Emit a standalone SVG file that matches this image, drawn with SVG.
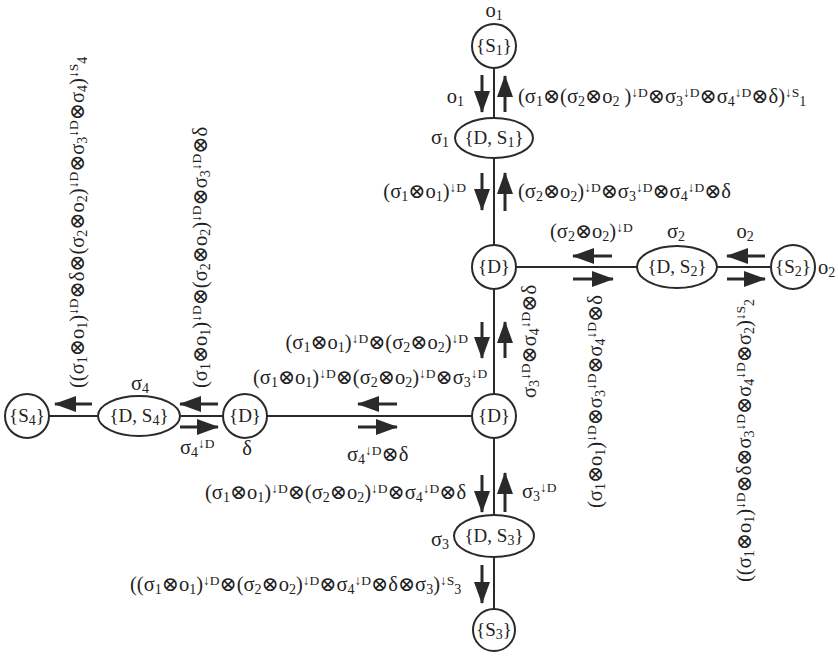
<svg xmlns="http://www.w3.org/2000/svg" width="838" height="657" viewBox="0 0 838 657">
<style>
.t{font-family:"Liberation Serif","Times New Roman","DejaVu Serif",serif;font-size:20.5px;fill:#222}
.nt{font-family:"Liberation Serif","Times New Roman","DejaVu Serif",serif;font-size:19px;fill:#222}
.s{font-size:14px;baseline-shift:-3px}
.p{font-size:13.5px;baseline-shift:6px}
.n{fill:#fff;stroke:#2a2a2a;stroke-width:2}
.l{stroke:#2a2a2a;stroke-width:2;fill:none}
.a{stroke:#2a2a2a;stroke-width:3;fill:none;marker-end:url(#ah)}
</style>
<defs>
<marker id="ah" markerUnits="userSpaceOnUse" markerWidth="22" markerHeight="16" refX="21" refY="8" orient="auto" viewBox="0 0 22 16">
<path d="M0,0 L22,8 L0,16 z" fill="#2a2a2a"/>
</marker>
</defs>
<rect width="838" height="657" fill="#fff"/>
<g id="connectors">
<line class="l" x1="494" y1="46" x2="494" y2="630"/>
<line class="l" x1="494" y1="267" x2="793" y2="267"/>
<line class="l" x1="27" y1="416" x2="494" y2="416"/>
<line class="a" x1="482" y1="75" x2="482" y2="112"/>
<line class="a" x1="505" y1="112" x2="505" y2="76"/>
<line class="a" x1="482" y1="173" x2="482" y2="210"/>
<line class="a" x1="505" y1="211" x2="505" y2="173"/>
<line class="a" x1="482" y1="322" x2="482" y2="358"/>
<line class="a" x1="505" y1="358" x2="505" y2="322"/>
<line class="a" x1="482" y1="475" x2="482" y2="512"/>
<line class="a" x1="505" y1="512" x2="505" y2="473"/>
<line class="a" x1="482" y1="565" x2="482" y2="603"/>
<line class="a" x1="612" y1="256" x2="573" y2="256"/>
<line class="a" x1="573" y1="279" x2="613" y2="279"/>
<line class="a" x1="765" y1="256" x2="727" y2="256"/>
<line class="a" x1="727" y1="279" x2="765" y2="279"/>
<line class="a" x1="397" y1="404" x2="358" y2="404"/>
<line class="a" x1="358" y1="427" x2="397" y2="427"/>
<line class="a" x1="218" y1="404" x2="180" y2="404"/>
<line class="a" x1="180" y1="427" x2="218" y2="427"/>
<line class="a" x1="92" y1="404" x2="55" y2="404"/>
</g>
<g id="S1"><circle class="n" cx="494" cy="46" r="22"/><text class="nt" x="494" y="52" text-anchor="middle">{S<tspan class="s">1</tspan>}</text></g>
<g id="DS1"><ellipse class="n" cx="494" cy="138" rx="39" ry="20"/><text class="nt" x="494" y="144" text-anchor="middle">{D, S<tspan class="s">1</tspan>}</text></g>
<g id="Dtop"><circle class="n" cx="494" cy="267" r="22"/><text class="nt" x="494" y="273" text-anchor="middle">{D}</text></g>
<g id="DS2"><ellipse class="n" cx="677" cy="267" rx="40" ry="21"/><text class="nt" x="677" y="273" text-anchor="middle">{D, S<tspan class="s">2</tspan>}</text></g>
<g id="S2"><circle class="n" cx="793" cy="267" r="22"/><text class="nt" x="793" y="273" text-anchor="middle">{S<tspan class="s">2</tspan>}</text></g>
<g id="Dc"><circle class="n" cx="494" cy="416" r="22"/><text class="nt" x="494" y="422" text-anchor="middle">{D}</text></g>
<g id="Dl"><circle class="n" cx="245" cy="416" r="22"/><text class="nt" x="245" y="422" text-anchor="middle">{D}</text></g>
<g id="DS4"><ellipse class="n" cx="139" cy="416" rx="41" ry="20"/><text class="nt" x="139" y="422" text-anchor="middle">{D, S<tspan class="s">4</tspan>}</text></g>
<g id="S4"><circle class="n" cx="27" cy="416" r="22"/><text class="nt" x="27" y="422" text-anchor="middle">{S<tspan class="s">4</tspan>}</text></g>
<g id="DS3"><ellipse class="n" cx="494" cy="536" rx="40" ry="21"/><text class="nt" x="494" y="542" text-anchor="middle">{D, S<tspan class="s">3</tspan>}</text></g>
<g id="S3"><circle class="n" cx="494" cy="630" r="21"/><text class="nt" x="494" y="636" text-anchor="middle">{S<tspan class="s">3</tspan>}</text></g>
<g id="labels">
<text class="t" x="494" y="17" text-anchor="middle">o<tspan class="s">1</tspan></text>
<text class="t" x="464" y="103" text-anchor="end">o<tspan class="s">1</tspan></text>
<text class="t" x="518" y="103">(σ<tspan class="s">1</tspan>⊗(σ<tspan class="s">2</tspan>⊗o<tspan class="s">2</tspan> )<tspan class="p">↓D</tspan>⊗σ<tspan class="s">3</tspan><tspan class="p">↓D</tspan>⊗σ<tspan class="s">4</tspan><tspan class="p">↓D</tspan>⊗δ)<tspan class="p">↓S</tspan><tspan class="s">1</tspan></text>
<text class="t" x="449" y="144" text-anchor="end">σ<tspan class="s">1</tspan></text>
<text class="t" x="466" y="198" text-anchor="end">(σ<tspan class="s">1</tspan>⊗o<tspan class="s">1</tspan>)<tspan class="p">↓D</tspan></text>
<text class="t" x="518" y="198">(σ<tspan class="s">2</tspan>⊗o<tspan class="s">2</tspan>)<tspan class="p">↓D</tspan>⊗σ<tspan class="s">3</tspan><tspan class="p">↓D</tspan>⊗σ<tspan class="s">4</tspan><tspan class="p">↓D</tspan>⊗δ</text>
<text class="t" x="550" y="238">(σ<tspan class="s">2</tspan>⊗o<tspan class="s">2</tspan>)<tspan class="p">↓D</tspan></text>
<text class="t" x="676" y="238" text-anchor="middle">σ<tspan class="s">2</tspan></text>
<text class="t" x="745" y="238" text-anchor="middle">o<tspan class="s">2</tspan></text>
<text class="t" x="818" y="274">o<tspan class="s">2</tspan></text>
<text class="t" x="468" y="349" text-anchor="end">(σ<tspan class="s">1</tspan>⊗o<tspan class="s">1</tspan>)<tspan class="p">↓D</tspan>⊗(σ<tspan class="s">2</tspan>⊗o<tspan class="s">2</tspan>)<tspan class="p">↓D</tspan></text>
<text class="t" x="253" y="384">(σ<tspan class="s">1</tspan>⊗o<tspan class="s">1</tspan>)<tspan class="p">↓D</tspan>⊗(σ<tspan class="s">2</tspan>⊗o<tspan class="s">2</tspan>)<tspan class="p">↓D</tspan>⊗σ<tspan class="s">3</tspan><tspan class="p">↓D</tspan></text>
<text class="t" x="140" y="390" text-anchor="middle">σ<tspan class="s">4</tspan></text>
<text class="t" x="180" y="454">σ<tspan class="s">4</tspan><tspan class="p">↓D</tspan></text>
<text class="t" x="247" y="455" text-anchor="middle">δ</text>
<text class="t" x="347" y="461">σ<tspan class="s">4</tspan><tspan class="p">↓D</tspan>⊗δ</text>
<text class="t" x="205" y="499">(σ<tspan class="s">1</tspan>⊗o<tspan class="s">1</tspan>)<tspan class="p">↓D</tspan>⊗(σ<tspan class="s">2</tspan>⊗o<tspan class="s">2</tspan>)<tspan class="p">↓D</tspan>⊗σ<tspan class="s">4</tspan><tspan class="p">↓D</tspan>⊗δ</text>
<text class="t" x="522" y="498">σ<tspan class="s">3</tspan><tspan class="p">↓D</tspan></text>
<text class="t" x="449" y="546" text-anchor="end">σ<tspan class="s">3</tspan></text>
<text class="t" x="130" y="591">((σ<tspan class="s">1</tspan>⊗o<tspan class="s">1</tspan>)<tspan class="p">↓D</tspan>⊗(σ<tspan class="s">2</tspan>⊗o<tspan class="s">2</tspan>)<tspan class="p">↓D</tspan>⊗σ<tspan class="s">4</tspan><tspan class="p">↓D</tspan>⊗δ⊗σ<tspan class="s">3</tspan>)<tspan class="p">↓S</tspan><tspan class="s">3</tspan></text>
<text class="t" transform="translate(536,398) rotate(-90)">σ<tspan class="s">3</tspan><tspan class="p">↓D</tspan>⊗σ<tspan class="s">4</tspan><tspan class="p">↓D</tspan>⊗δ</text>
<text class="t" transform="translate(602,508) rotate(-90)">(σ<tspan class="s">1</tspan>⊗o<tspan class="s">1</tspan>)<tspan class="p">↓D</tspan>⊗σ<tspan class="s">3</tspan><tspan class="p">↓D</tspan>⊗σ<tspan class="s">4</tspan><tspan class="p">↓D</tspan>⊗δ</text>
<text class="t" transform="translate(751,582) rotate(-90)">((σ<tspan class="s">1</tspan>⊗o<tspan class="s">1</tspan>)<tspan class="p">↓D</tspan>⊗δ⊗σ<tspan class="s">3</tspan><tspan class="p">↓D</tspan>⊗σ<tspan class="s">4</tspan><tspan class="p">↓D</tspan>⊗σ<tspan class="s">2</tspan>)<tspan class="p">↓S</tspan><tspan class="s">2</tspan></text>
<text class="t" transform="translate(84,388) rotate(-90)">((σ<tspan class="s">1</tspan>⊗o<tspan class="s">1</tspan>)<tspan class="p">↓D</tspan>⊗δ⊗(σ<tspan class="s">2</tspan>⊗o<tspan class="s">2</tspan>)<tspan class="p">↓D</tspan>⊗σ<tspan class="s">3</tspan><tspan class="p">↓D</tspan>⊗σ<tspan class="s">4</tspan>)<tspan class="p">↓S</tspan><tspan class="s">4</tspan></text>
<text class="t" transform="translate(207,388) rotate(-90)">(σ<tspan class="s">1</tspan>⊗o<tspan class="s">1</tspan>)<tspan class="p">↓D</tspan>⊗(σ<tspan class="s">2</tspan>⊗o<tspan class="s">2</tspan>)<tspan class="p">↓D</tspan>⊗σ<tspan class="s">3</tspan><tspan class="p">↓D</tspan>⊗δ</text>
</g>
</svg>
